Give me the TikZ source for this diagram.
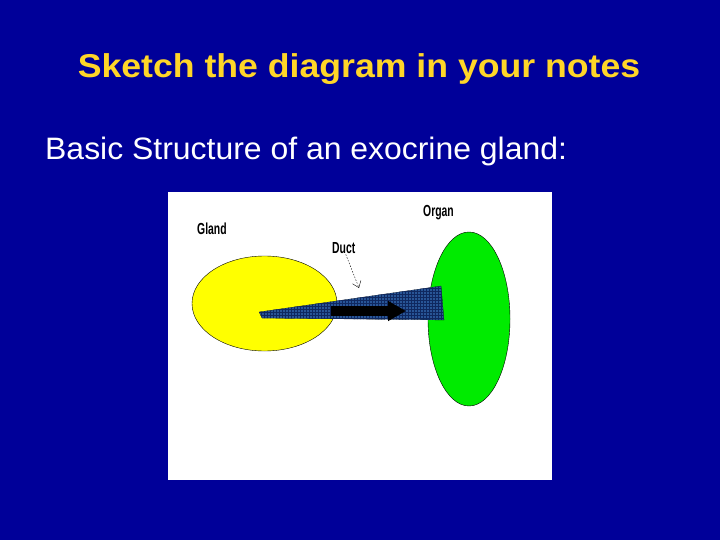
\documentclass[tikz,border=0pt]{standalone}
\usepackage{fontspec}
\setmainfont{Liberation Sans}
\newfontfamily\paintfont[FakeStretch=0.65]{Liberation Sans}
\newfontfamily\titlefont[FakeStretch=1.08]{Liberation Sans}
\newfontfamily\bodyfont[FakeStretch=1.03]{Liberation Sans}
\usetikzlibrary{shapes.geometric, arrows.meta, patterns}
\definecolor{slideblue}{RGB}{0,0,153}
\definecolor{titleyellow}{RGB}{255,214,40}
\definecolor{glandyellow}{RGB}{255,255,0}
\definecolor{organgreen}{RGB}{0,235,0}
\definecolor{ductblue}{RGB}{40,85,150}
\definecolor{ductgrid}{RGB}{15,40,95}
\tikzset{
    organ/.style={
        ellipse, draw=black, thin, inner sep=0pt
    },
    paintlabel/.style={
        font=\paintfont\bfseries\fontsize{16}{16}\selectfont, inner sep=0pt, anchor=base west
    },
    duct/.style={
        fill=ductblue, draw=black, very thin,
        postaction={pattern=grid, pattern color=ductgrid}
    },
    flow/.style={draw=black, line width=10pt, -{Triangle[length=18pt, width=19pt]}},
    pointer/.style={draw=black, thin, dash pattern=on 1.5pt off 1.5pt, -{Straight Barb[length=6pt, width=9pt]}}
}

\begin{document}
\begin{tikzpicture}[x=1pt, y=-1pt]

% slide
\fill[slideblue] (0,0) rectangle (720,540);
\useasboundingbox (0,0) rectangle (720,540);
\node[font=\titlefont\bfseries\fontsize{33}{36}\selectfont, text=titleyellow, anchor=base, inner sep=0pt] (title) at (359,78) {Sketch the diagram in your notes};
\node[font=\bodyfont\fontsize{31}{34}\selectfont, text=white, anchor=base west, inner sep=0pt] (subtitle) at (45,160) {Basic Structure of an exocrine gland:};

% sketch
\fill[white] (168,192) rectangle (552,480);
\node[organ, fill=glandyellow, minimum width=145pt, minimum height=95pt] (gland) at (264.5,303.5) {};
\node[organ, fill=organgreen, minimum width=82pt, minimum height=174pt] (organ) at (469,319) {};

\filldraw[duct] (259,312) -- (441,286) -- (444,320) -- (262,318) -- cycle;
\coordinate (flowstart) at (331,311);
\coordinate (flowend) at (406,311);
\draw[flow] (flowstart) -- (flowend);

\node[paintlabel] (glandlabel) at (197,235) {Gland};
\node[paintlabel] (organlabel) at (423,217) {Organ};
\node[paintlabel] (ductlabel) at (332,253) {Duct};
\coordinate (ducttip) at (359,288);
\draw[pointer] ([xshift=2pt, yshift=-1pt]ductlabel.south) -- (ducttip);

\end{tikzpicture}
\end{document}
